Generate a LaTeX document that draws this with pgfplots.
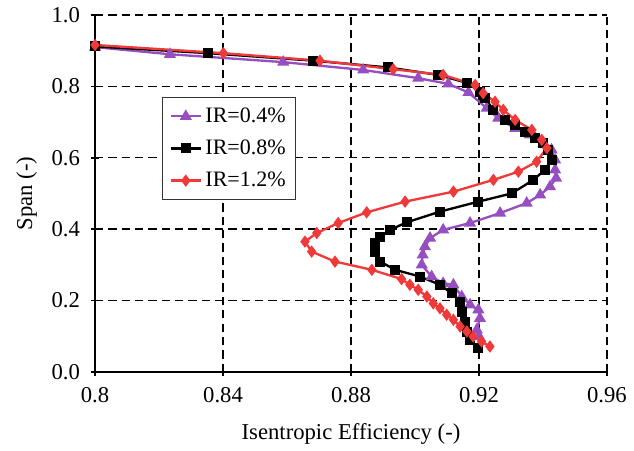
\documentclass[border=0pt]{standalone}
\usepackage{fontspec}
\setmainfont{Liberation Serif}
\usepackage{pgfplots}
\pgfplotsset{compat=1.18}
\definecolor{irpurple}{RGB}{150,78,192}
\definecolor{irred}{RGB}{240,58,58}

\begin{document}
\begin{tikzpicture}
\begin{axis}[
    scale only axis, width=307pt, height=214pt,
    xmin=0.8, xmax=0.96, ymin=0, ymax=1,
    xtick={0.8,0.84,0.88,0.92,0.96}, ytick={0,0.2,0.4,0.6,0.8,1.0},
    xticklabels={0.8,0.84,0.88,0.92,0.96},
    yticklabels={0.0,0.2,0.4,0.6,0.8,1.0},
    axis lines=left, axis line style={-, line width=1.2pt},
    tick align=center, major tick length=5pt,
    tick style={black, line width=1pt},
    grid=major, grid style={black, line width=0.8pt, dash pattern=on 5pt off 3pt},
    tick label style={font=\fontsize{13.6}{16}\selectfont},
    xticklabel style={yshift=-3pt},
    yticklabel style={xshift=-3pt},
    label style={font=\fontsize{13.6}{16}\selectfont},
    xlabel={Isentropic Efficiency (-)}, ylabel={Span (-)},
    xlabel style={yshift=-6pt},
    ylabel style={yshift=2pt},
    legend style={at={(0.131,0.770)}, anchor=north west, draw=black!80, line width=0.8pt,
        font=\fontsize{13.2}{16}\selectfont, row sep=5pt, inner sep=4pt},
    legend cell align=left,
    legend image code/.code={\draw[mark repeat=2, mark phase=2, #1] plot coordinates {(0cm,0cm) (0.32cm,0cm) (0.64cm,0cm)};},
]
  % IR = 0.4%
  \addplot[irpurple, line width=1.4pt, mark=triangle*, mark size=2.8pt, mark options={solid}] coordinates {
    (0.800,0.910) (0.8234,0.890) (0.8588,0.868) (0.8838,0.846) (0.901,0.823) (0.9104,0.807)
    (0.9167,0.783) (0.9224,0.739) (0.926,0.711) (0.9313,0.682) (0.9359,0.664) (0.9401,0.640)
    (0.9427,0.622) (0.9438,0.594) (0.9438,0.566) (0.9441,0.543) (0.9422,0.519) (0.9391,0.496)
    (0.9349,0.473) (0.9266,0.445) (0.9172,0.417) (0.9088,0.398) (0.9047,0.375) (0.9031,0.351)
    (0.9024,0.328) (0.9021,0.300) (0.9052,0.267) (0.9088,0.248) (0.912,0.244) (0.9146,0.211)
    (0.9172,0.188) (0.9198,0.174) (0.9203,0.150) (0.9193,0.118) (0.9200,0.100)
  };
  \addlegendentry{IR=0.4\%}
  % IR = 0.8%
  \addplot[black, line width=1.4pt, mark=square*, mark size=2.3pt, mark options={solid}] coordinates {
    (0.800,0.912) (0.8354,0.893) (0.8682,0.872) (0.8917,0.853) (0.9073,0.832) (0.9162,0.810)
    (0.9203,0.785) (0.9219,0.767) (0.9245,0.734) (0.9281,0.706) (0.9313,0.692) (0.9344,0.673)
    (0.9375,0.655) (0.9401,0.640) (0.9417,0.622) (0.9427,0.594) (0.9406,0.566) (0.937,0.538)
    (0.9302,0.500) (0.9198,0.477) (0.9078,0.449) (0.8974,0.419) (0.8922,0.398) (0.8891,0.379)
    (0.8875,0.361) (0.8875,0.337) (0.8891,0.309) (0.8938,0.286) (0.9016,0.267) (0.9078,0.244)
    (0.9115,0.220) (0.9141,0.197) (0.9146,0.169) (0.9156,0.141) (0.9162,0.113) (0.9172,0.090)
    (0.9198,0.066)
  };
  \addlegendentry{IR=0.8\%}
  % IR = 1.2%
  \addplot[irred, line width=1.4pt, mark=diamond*, mark size=2.6pt, mark options={solid}] coordinates {
    (0.800,0.916) (0.8401,0.893) (0.8703,0.872) (0.8932,0.848) (0.9088,0.832) (0.9188,0.804)
    (0.9213,0.781) (0.925,0.757) (0.9276,0.734) (0.9313,0.706) (0.9365,0.678) (0.9396,0.650)
    (0.9412,0.627) (0.938,0.589) (0.9323,0.561) (0.9245,0.538) (0.912,0.505) (0.8969,0.477)
    (0.8849,0.447) (0.876,0.417) (0.8693,0.389) (0.8656,0.365) (0.8677,0.337) (0.875,0.309)
    (0.8865,0.286) (0.8958,0.260) (0.8984,0.244) (0.901,0.230) (0.9037,0.211) (0.9057,0.192)
    (0.9078,0.178) (0.9099,0.160) (0.912,0.146) (0.9141,0.127) (0.9162,0.113) (0.9182,0.099)
    (0.9208,0.085) (0.9234,0.071)
  };
  \addlegendentry{IR=1.2\%}
\end{axis}
\path (current axis.south west) ++(-57pt,-44.4pt);
\path (current axis.north east) ++(16.2pt,9pt);
\end{tikzpicture}
\end{document}
